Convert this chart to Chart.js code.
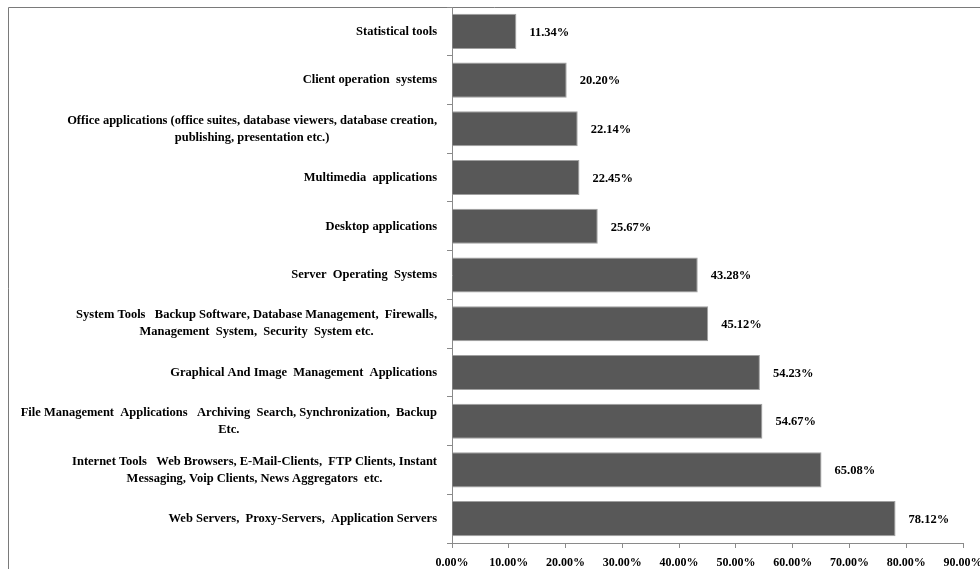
<!DOCTYPE html>
<html>
<head>
<meta charset="utf-8">
<script src="https://cdn.jsdelivr.net/npm/chart.js@4.4.1/dist/chart.umd.min.js"></script>
<style>
	html, body { margin: 0; padding: 0; background: #fff; overflow: hidden; }
	#wrap { width: 980px; height: 569px; position: relative; }
</style>
</head>
<body>
<div id="wrap"><canvas id="myChart" width="980" height="569"></canvas></div>
<script>
// categories, top to bottom
var categories = [
	["Statistical tools"],
	["Client operation  systems"],
	["Office applications (office suites, database viewers, database creation,", "publishing, presentation etc.)"],
	["Multimedia  applications"],
	["Desktop applications"],
	["Server  Operating  Systems"],
	["System Tools   Backup Software, Database Management,  Firewalls,", "Management  System,  Security  System etc."],
	["Graphical And Image  Management  Applications"],
	["File Management  Applications   Archiving  Search, Synchronization,  Backup", "Etc."],
	["Internet Tools   Web Browsers, E-Mail-Clients,  FTP Clients, Instant", "Messaging, Voip Clients, News Aggregators  etc."],
	["Web Servers,  Proxy-Servers,  Application Servers"]
];
var shares = [11.34, 20.20, 22.14, 22.45, 25.67, 43.28, 45.12, 54.23, 54.67, 65.08, 78.12];
var xTicks = [0, 10, 20, 30, 40, 50, 60, 70, 80, 90];

var serif = "'Liberation Serif', 'Times New Roman', serif";

// outer frame (only top and left edges are inside the canvas)
var framePlugin = {
	id: 'frame',
	beforeDraw: function(chart) {
		var ctx = chart.ctx;
		ctx.save();
		ctx.strokeStyle = '#7a7a7a';
		ctx.lineWidth = 1;
		ctx.beginPath();
		ctx.moveTo(8.5, 569);
		ctx.lineTo(8.5, 7.5);
		ctx.lineTo(980, 7.5);
		ctx.stroke();
		ctx.restore();
	}
};

// category labels: block right aligned, lines centred inside the block
var catLabels = {
	id: 'catLabels',
	afterDraw: function(chart) {
		var ctx = chart.ctx;
		var yScale = chart.scales.y;
		var right = chart.chartArea.left - 15;
		ctx.save();
		ctx.font = 'bold 12.5px ' + serif;
		ctx.fillStyle = '#000';
		ctx.textAlign = 'center';
		ctx.textBaseline = 'middle';
		for (var i = 0; i < categories.length; i++) {
			var lines = categories[i];
			var w = 0;
			for (var j = 0; j < lines.length; j++) {
				w = Math.max(w, ctx.measureText(lines[j]).width);
			}
			var cx = right - w / 2;
			var cy = yScale.getPixelForValue(i);
			var lh = 17;
			var y0 = cy - (lines.length - 1) * lh / 2;
			for (var j = 0; j < lines.length; j++) {
				ctx.fillText(lines[j], cx, y0 + j * lh);
			}
		}
		ctx.restore();
	}
};

// value labels to the right of each bar
var valueLabels = {
	id: 'valueLabels',
	afterDatasetsDraw: function(chart) {
		var ctx = chart.ctx;
		var meta = chart.getDatasetMeta(0);
		ctx.save();
		ctx.font = 'bold 12.5px ' + serif;
		ctx.fillStyle = '#000';
		ctx.textAlign = 'left';
		ctx.textBaseline = 'middle';
		for (var i = 0; i < meta.data.length; i++) {
			var bar = meta.data[i];
			ctx.fillText(shares[i].toFixed(2) + '%', bar.x + 13, bar.y + 1);
		}
		ctx.restore();
	}
};

var ctx = document.getElementById("myChart");
var myChart = new Chart(ctx, {
	type: 'bar',
	data: {
		labels: categories,
		datasets: [{
			data: shares,
			backgroundColor: '#585858',
			borderColor: '#a0a0a0',
			borderWidth: 1,
			barPercentage: 0.8,
			categoryPercentage: 0.9
		}]
	},
	options: {
		indexAxis: 'y',
		responsive: false,
		animation: false,
		events: [],
		layout: {
			padding: { top: 7, right: 17, bottom: 0, left: 0 }
		},
		plugins: {
			legend: { display: false },
			tooltip: { enabled: false }
		},
		scales: {
			x: {
				min: 0,
				max: 90,
				afterBuildTicks: function(scale) {
					scale.ticks = xTicks.map(function(v) { return { value: v }; });
				},
				afterFit: function(scale) {
					scale.height = 26;
					scale.paddingLeft = 0;
					scale.paddingRight = 0;
				},
				border: { color: '#8a8a8a', width: 1 },
				grid: {
					drawOnChartArea: false,
					drawTicks: true,
					tickLength: 5,
					color: '#8a8a8a'
				},
				ticks: {
					autoSkip: false,
					maxRotation: 0,
					padding: 8,
					color: '#000',
					font: { family: serif, size: 12, weight: 'bold' },
					callback: function(v) { return Number(v).toFixed(2) + '%'; }
				}
			},
			y: {
				offset: true,
				afterFit: function(scale) {
					scale.width = 452;
					scale.paddingTop = 0;
					scale.paddingBottom = 0;
				},
				border: { color: '#8a8a8a', width: 1 },
				grid: {
					offset: true,
					drawOnChartArea: false,
					drawTicks: true,
					tickLength: 5,
					color: '#8a8a8a'
				},
				ticks: { display: false }
			}
		}
	},
	plugins: [framePlugin, catLabels, valueLabels]
});
</script>
</body>
</html>
